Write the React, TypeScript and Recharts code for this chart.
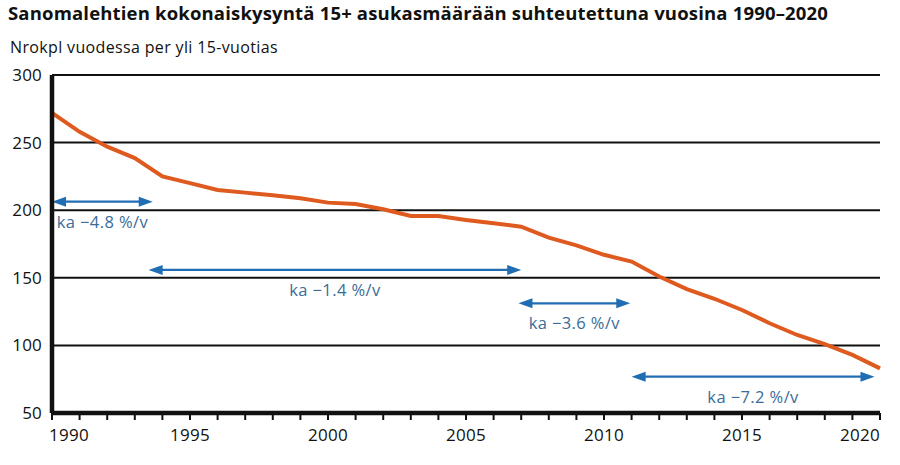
import React from 'react';
import { LineChart, Line, XAxis, YAxis, CartesianGrid, ReferenceLine } from 'recharts';

const years = [1990, 1991, 1992, 1993, 1994, 1995, 1996, 1997, 1998, 1999, 2000, 2001, 2002, 2003, 2004, 2005, 2006, 2007, 2008, 2009, 2010, 2011, 2012, 2013, 2014, 2015, 2016, 2017, 2018, 2019, 2020];
const demand = [272, 258, 247, 238.5, 225, 220, 215, 213, 211, 208.8, 205.6, 204.6, 200.7, 195.8, 195.7, 192.8, 190.3, 187.8, 179.7, 174, 167, 162, 151, 141.7, 134.5, 126.2, 116.4, 107.7, 101, 93, 83];
const labelYears = [1990, 1995, 2000, 2005, 2010, 2015, 2020];
const yTicks = [50, 100, 150, 200, 250, 300];

const arrowStarts = [1990, 1993.5, 2006.9, 2011.0];
const arrowEnds = [1993.65, 2007.0, 2010.95, 2019.8];
const arrowLevels = [206.3, 155.8, 131.1, 76.9];
const arrowLabels = ['ka \u22124.8 %/v', 'ka \u22121.4 %/v', 'ka \u22123.6 %/v', 'ka \u22127.2 %/v'];

const title = 'Sanomalehtien kokonaiskysyntä 15+ asukasmäärään suhteutettuna vuosina 1990\u20132020';
const subtitle = 'Nrokpl vuodessa per yli 15-vuotias';

const data = years.map((y, i) => ({ year: y, value: demand[i] }));

const FONT = '"Open Sans", "DejaVu Sans", sans-serif';
const ARROW = '#1f6db3';
const LABEL = '#3b6c98';

const XTick = (props: any) => {
  const { x, y, payload } = props;
  const v = payload.value;
  if (!labelYears.includes(v)) return null;
  const anchor = v === labelYears[0] ? 'start' : v === labelYears[labelYears.length - 1] ? 'end' : 'middle';
  const dx = v === labelYears[0] ? -3 : 0;
  return (
    <text x={x + dx} y={y} dy={19} textAnchor={anchor} fontSize={17} letterSpacing={0.3} fill="#111" fontFamily={FONT}>
      {v}
    </text>
  );
};

const YTick = (props: any) => {
  const { x, y, payload } = props;
  return (
    <text x={x} y={y} dy={6} textAnchor="end" fontSize={17} letterSpacing={0.2} fill="#111" fontFamily={FONT}>
      {payload.value}
    </text>
  );
};

const makeArrow = (label: string) => (p: any) => {
  const { x1, y1, x2, y2 } = p;
  const hl = 14;
  const hh = 5;
  const xa = Math.min(x1, x2);
  const xb = Math.max(x1, x2);
  const yy = y1;
  return (
    <g>
      <line x1={xa + hl - 1} y1={yy} x2={xb - hl + 1} y2={y2} stroke={ARROW} strokeWidth={2.2} />
      <polygon points={`${xa},${yy} ${xa + hl},${yy - hh} ${xa + hl},${yy + hh}`} fill={ARROW} />
      <polygon points={`${xb},${yy} ${xb - hl},${yy - hh} ${xb - hl},${yy + hh}`} fill={ARROW} />
      <text x={(xa + xb) / 2} y={yy + 26} textAnchor="middle" fontSize={16.5} letterSpacing={0.4} fill={LABEL} fontFamily={FONT}>
        {label}
      </text>
    </g>
  );
};

export default function App() {
  return (
    <div style={{ position: 'absolute', left: 0, top: 0, width: 900, height: 465, background: '#fff' }}>
      <div style={{ position: 'absolute', left: 8, top: 0, fontFamily: FONT, fontWeight: 700, fontSize: 18.5, color: '#111', whiteSpace: 'nowrap', letterSpacing: 0.17 }}>
        {title}
      </div>
      <div style={{ position: 'absolute', left: 10, top: 36, fontFamily: FONT, fontSize: 16, color: '#111', whiteSpace: 'nowrap', letterSpacing: 0.35 }}>
        {subtitle}
      </div>
      <LineChart width={900} height={465} data={data} margin={{ top: 75, right: 20, bottom: 12, left: 8 }}>
        <CartesianGrid horizontal vertical={false} stroke="#111" strokeWidth={2} strokeDasharray="" />
        <XAxis
          dataKey="year"
          type="number"
          domain={[1990, 2020]}
          ticks={years}
          interval={0}
          height={40}
          axisLine={{ stroke: '#111', strokeWidth: 4.5 }}
          tickLine={{ stroke: '#111', strokeWidth: 2 }}
          tickSize={7}
          tickMargin={2}
          tick={<XTick />}
          allowDecimals={false}
        />
        <YAxis
          type="number"
          domain={[50, 300]}
          ticks={yTicks}
          interval={0}
          width={44}
          axisLine={{ stroke: '#111', strokeWidth: 4.5 }}
          tickLine={false}
          tickSize={0}
          tickMargin={10}
          tick={<YTick />}
        />
        {arrowLabels.map((lab, i) => (
          <ReferenceLine
            key={lab}
            segment={[{ x: arrowStarts[i], y: arrowLevels[i] }, { x: arrowEnds[i], y: arrowLevels[i] }]}
            ifOverflow="visible"
            stroke={ARROW}
            shape={makeArrow(lab)}
          />
        ))}
        <Line
          type="linear"
          dataKey="value"
          stroke="#de5a1f"
          strokeWidth={4}
          dot={false}
          activeDot={false}
          isAnimationActive={false}
        />
      </LineChart>
    </div>
  );
}
